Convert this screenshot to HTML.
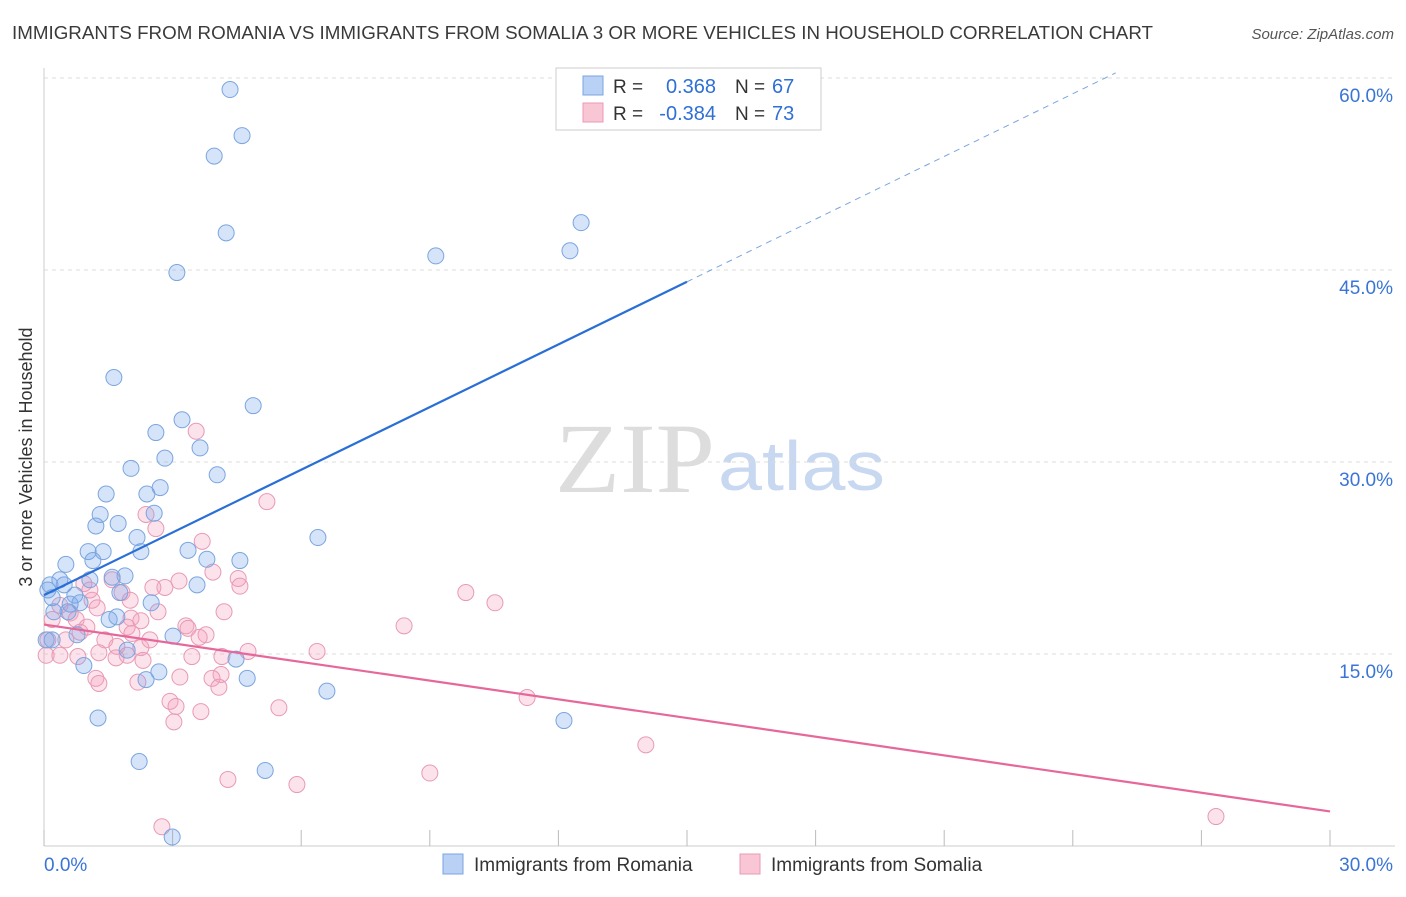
<!DOCTYPE html>
<html><head><meta charset="utf-8"><style>
body{margin:0;background:#fff;font-family:"Liberation Sans",sans-serif;}
</style></head><body>
<svg width="1406" height="892" xmlns="http://www.w3.org/2000/svg" id="chart">
<text x="12" y="39" font-size="18" fill="#3a3a3a" textLength="1141" lengthAdjust="spacingAndGlyphs">IMMIGRANTS FROM ROMANIA VS IMMIGRANTS FROM SOMALIA 3 OR MORE VEHICLES IN HOUSEHOLD CORRELATION CHART</text>
<text x="1394" y="39" font-size="15" fill="#555" text-anchor="end" font-style="italic">Source: ZipAtlas.com</text>
<text x="32" y="457" font-size="18" fill="#333" text-anchor="middle" transform="rotate(-90 32 457)">3 or more Vehicles in Household</text>
<text x="555" y="492" font-size="100" fill="#ddd" font-family="Liberation Serif,serif" textLength="160" lengthAdjust="spacingAndGlyphs">ZIP</text>
<text x="718" y="490" font-size="70" fill="#c8d8f0" textLength="167" lengthAdjust="spacingAndGlyphs">atlas</text>
<g id="grid"></g><g id="pts"></g><g id="lines"></g>
<g>
<rect x="556" y="68" width="265" height="62" fill="#fff" stroke="#ccc"/>
<rect x="583" y="76" width="20" height="19" fill="#b9d1f5" stroke="#7aa5e0"/>
<rect x="583" y="103" width="20" height="19" fill="#f9c6d6" stroke="#e89ab5"/>
<text x="613" y="93" font-size="19" fill="#333">R =</text>
<text x="716" y="93" font-size="20" fill="#2f6fd6" text-anchor="end">0.368</text>
<text x="735" y="93" font-size="19" fill="#333">N =</text>
<text x="772" y="93" font-size="20" fill="#2f6fd6">67</text>
<text x="613" y="120" font-size="19" fill="#333">R =</text>
<text x="716" y="120" font-size="20" fill="#2f6fd6" text-anchor="end">-0.384</text>
<text x="735" y="120" font-size="19" fill="#333">N =</text>
<text x="772" y="120" font-size="20" fill="#2f6fd6">73</text>
</g>
<g>
<rect x="443" y="854" width="20" height="20" fill="#b9d1f5" stroke="#7aa5e0"/>
<text x="474" y="871" font-size="19" fill="#333">Immigrants from Romania</text>
<rect x="740" y="854" width="20" height="20" fill="#f9c6d6" stroke="#e89ab5"/>
<text x="771" y="871" font-size="19" fill="#333">Immigrants from Somalia</text>
</g>
</svg>
<script>
const yTicks=[15,30,45,60];
const xTickLabels=["0.0%","30.0%"];
const romaniaX=[4.34,4.62,3.97,4.25,3.10,9.14,12.53,12.27,1.63,4.88,3.22,2.61,3.64,2.82,2.03,4.04,1.45,2.71,2.40,1.31,1.21,1.73,2.57,2.17,6.39,1.03,1.38,2.26,3.36,4.57,3.80,0.51,1.14,1.89,1.59,1.07,0.37,0.14,0.47,0.72,0.19,0.61,0.84,2.50,1.77,0.23,0.56,1.52,1.70,3.57,3.01,0.77,0.05,0.19,1.94,4.48,0.93,2.68,2.38,4.74,6.60,1.26,12.13,2.22,5.16,2.99,0.09];
const romaniaY=[59.1,55.5,53.9,47.9,44.8,46.1,48.7,46.5,36.6,34.4,33.3,32.3,31.1,30.3,29.5,29.0,27.5,28.0,27.5,25.9,25.0,25.2,26.0,24.1,24.1,23.0,23.0,23.0,23.1,22.3,22.4,22.0,22.3,21.1,21.0,20.8,20.8,20.4,20.4,19.6,19.4,18.9,19.0,19.0,19.8,18.3,18.3,17.7,17.9,20.4,16.4,16.5,16.1,16.1,15.3,14.6,14.1,13.6,13.0,13.1,12.1,10.0,9.8,6.6,5.9,0.7,20.0];
const somaliaX=[3.55,5.20,2.38,2.61,3.69,3.94,4.53,4.57,3.15,2.82,2.54,1.59,9.84,10.52,0.93,1.82,2.01,1.12,0.37,0.61,1.24,2.66,4.20,3.78,3.31,3.36,3.62,2.03,1.94,2.26,0.75,1.00,0.84,0.19,8.40,1.42,2.05,2.26,1.70,1.28,1.94,4.15,4.76,6.37,0.05,0.37,0.79,2.31,3.45,1.68,1.21,3.17,4.13,3.92,1.28,2.19,4.08,11.27,2.94,3.08,3.66,5.48,3.03,14.04,9.00,4.29,5.90,2.75,27.34,0.09,0.51,1.07,2.47];
const somaliaY=[32.4,26.9,25.9,24.8,23.8,21.4,20.9,20.3,20.7,20.2,20.2,20.8,19.8,19.0,20.5,19.8,19.2,19.2,18.8,18.2,18.6,18.3,18.3,16.5,17.2,17.0,16.3,17.8,17.1,17.6,17.7,17.1,16.7,17.7,17.2,16.1,16.6,15.5,15.6,15.1,14.9,14.8,15.2,15.2,14.9,14.9,14.8,14.5,14.8,14.7,13.1,13.2,13.4,13.1,12.7,12.8,12.4,11.6,11.3,10.9,10.5,10.8,9.7,7.9,5.7,5.2,4.8,1.5,2.3,16.1,16.1,20.0,16.1];
const romaniaTrend=[19.6,60.4];
const somaliaTrend=[17.3,2.7];
const NS="http://www.w3.org/2000/svg";
const X=v=>44+v/30*1286, Y=v=>846-v/15*192;
function mk(tag,attrs,parent){const e=document.createElementNS(NS,tag);for(const k in attrs)e.setAttribute(k,attrs[k]);parent.appendChild(e);return e;}
const grid=document.getElementById('grid');
yTicks.forEach(t=>{
 const l=mk('line',{x1:44,x2:1395,y1:Y(t),y2:Y(t),stroke:'#ddd','stroke-dasharray':'4 4'},grid);
 
 
 const tx=mk('text',{x:1393,y:Y(t)+24,'font-size':19,fill:'#3a74d6','text-anchor':'end'},grid);
 tx.textContent=t.toFixed(1)+'%';
 
 
});
const ax=mk('line',{x1:44,x2:44,y1:68,y2:846,stroke:'#ccc'},grid);


const bx=mk('line',{x1:44,x2:1395,y1:846,y2:846,stroke:'#ccc'},grid);


for(let i=0;i<=10;i++){
 const t=mk('line',{x1:X(i*3),x2:X(i*3),y1:830,y2:846,stroke:'#bbb'},grid);
 
 
}
[[0,'start',44],[30,'end',1393]].forEach((d,i)=>{
 const t=mk('text',{x:d[2],y:871,'font-size':19,fill:'#3a74d6','text-anchor':d[1]},grid);
 t.textContent=xTickLabels[i];
 
 
});
const pts=document.getElementById('pts');
somaliaX.forEach((x,i)=>{
 const c=mk('circle',{cx:X(x),cy:Y(somaliaY[i]),r:8,fill:'rgba(244,160,190,0.3)',stroke:'#e89ab5','stroke-width':1},pts);
 
 
});
romaniaX.forEach((x,i)=>{
 const c=mk('circle',{cx:X(x),cy:Y(romaniaY[i]),r:8,fill:'rgba(120,165,235,0.3)',stroke:'#7aa5e0','stroke-width':1},pts);
 
 
});
const lines=document.getElementById('lines');
const rAt=x=>romaniaTrend[0]+(romaniaTrend[1]-romaniaTrend[0])*x/25;
const l1=mk('line',{x1:X(0),y1:Y(rAt(0)),x2:X(15),y2:Y(rAt(15)),stroke:'#2a6fd6','stroke-width':2.2},lines);


const l2=mk('line',{x1:X(15),y1:Y(rAt(15)),x2:X(25),y2:Y(rAt(25)),stroke:'#7aa5e0','stroke-width':1,'stroke-dasharray':'6 5'},lines);


const l3=mk('line',{x1:X(0),y1:Y(somaliaTrend[0]),x2:X(30),y2:Y(somaliaTrend[1]),stroke:'#e6689a','stroke-width':2.2},lines);


</script>
</body></html>
